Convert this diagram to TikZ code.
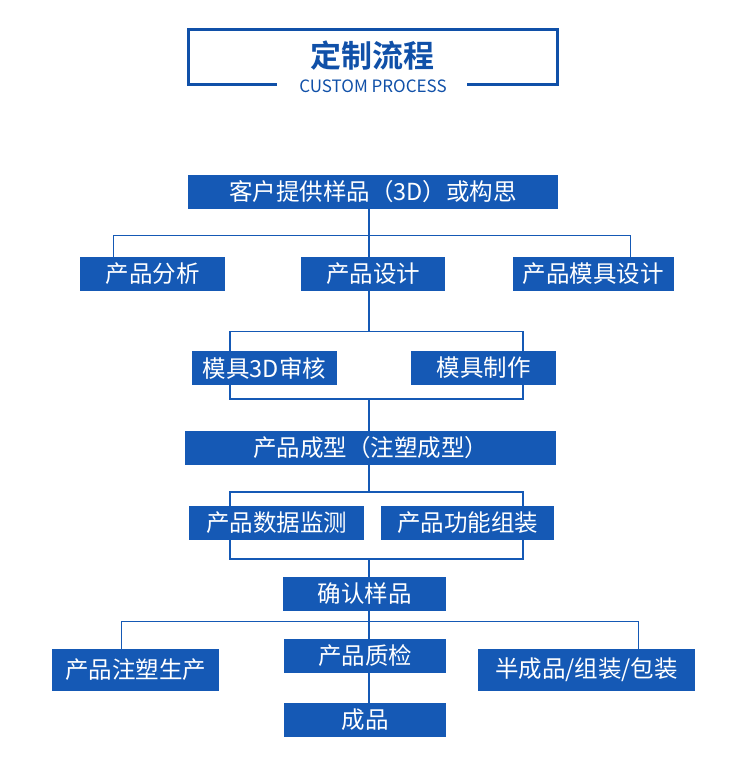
\documentclass[tikz,border=0pt]{standalone}
\usepackage{fontspec}
\setmainfont{Noto Sans CJK SC}[BoldFont={Noto Sans CJK SC Bold}]
\usetikzlibrary{backgrounds}
\definecolor{boxblue}{RGB}{21,89,181}
\definecolor{titleblue}{RGB}{16,80,168}

\begin{document}
\begin{tikzpicture}[x=1pt,y=-1pt,
    box/.style={fill=boxblue,text=white,inner sep=0pt,minimum height=34pt,
      font=\fontsize{23.5}{23.5}\selectfont},
    tallbox/.style={box,minimum height=42pt},
    link/.style={boxblue,line width=1.5pt}]
  \useasboundingbox (0,0) rectangle (750,774);

  % title
  \draw[titleblue,line width=3pt] (276.7,84.3) -- (188,84.3) -- (188,29.3)
    -- (557.7,29.3) -- (557.7,84.3) -- (467,84.3);
  \node[titleblue,font=\fontsize{31}{31}\selectfont\bfseries] (title) at (372,56) {定制流程};
  \node[titleblue,font=\fontsize{17}{17}\selectfont] (subtitle) at (373,86) {CUSTOM PROCESS};

  % boxes
  \node[box,minimum width=370pt] (kehu) at (373,192) {客户提供样品（3D）或构思};
  \node[box,minimum width=145pt] (fenxi) at (152.5,274) {产品分析};
  \node[box,minimum width=144pt] (sheji) at (373,274) {产品设计};
  \node[box,minimum width=161pt] (mjsheji) at (593.3,274) {产品模具设计};
  \node[box,minimum width=145pt] (shenhe) at (264.5,368) {模具3D审核};
  \node[box,minimum width=145pt] (zhizuo) at (483.5,368) {模具制作};
  \node[box,minimum width=371pt] (chengxing) at (370.5,448) {产品成型（注塑成型）};
  \node[box,minimum width=175pt] (jiance) at (276.5,523) {产品数据监测};
  \node[box,minimum width=173pt] (zuzhuang) at (467.5,523) {产品功能组装};
  \node[box,minimum width=163pt] (queren) at (364.5,594) {确认样品};
  \node[tallbox,minimum width=167pt] (shengchan) at (135.5,670) {产品注塑生产};
  \node[box,minimum width=162pt] (zhijian) at (365,655.7) {产品质检};
  \node[tallbox,minimum width=217pt] (banchengpin) at (586.5,670) {半成品/组装/包装};
  \node[box,minimum width=162pt] (chengpin) at (365,720) {成品};

  % connectors
  \coordinate (spine) at (369,0);
  \coordinate (b1l) at (113.3,235.7);
  \coordinate (b1r) at (630.7,235.7);
  \coordinate (r2a) at (230,331.7);
  \coordinate (r2b) at (523,399);
  \coordinate (r3a) at (230,492);
  \coordinate (r3b) at (523,559);
  \coordinate (b4l) at (121.3,621.7);
  \coordinate (b4r) at (638.3,621.7);
  \begin{scope}[on background layer]
    \draw[link] (kehu.south -| spine) -- (b1l -| spine);
    \draw[link] (fenxi.north -| b1l) -- (b1l) -- (b1r) -- (mjsheji.north -| b1r);
    \draw[link] (b1l -| spine) -- (sheji.north -| spine);
    \draw[link] (sheji.south -| spine) -- (r2a -| spine);
    \draw[link] (r2a) rectangle (r2b);
    \draw[link] (r2b -| spine) -- (chengxing.north -| spine);
    \draw[link] (chengxing.south -| spine) -- (r3a -| spine);
    \draw[link] (r3a) rectangle (r3b);
    \draw[link] (r3b -| spine) -- (queren.north -| spine);
    \draw[link] (queren.south -| spine) -- (b4l -| spine);
    \draw[link] (shengchan.north -| b4l) -- (b4l) -- (b4r) -- (banchengpin.north -| b4r);
    \draw[link] (b4l -| spine) -- (zhijian.north -| spine);
    \draw[link] (zhijian.south -| spine) -- (chengpin.north -| spine);
  \end{scope}
\end{tikzpicture}
\end{document}
